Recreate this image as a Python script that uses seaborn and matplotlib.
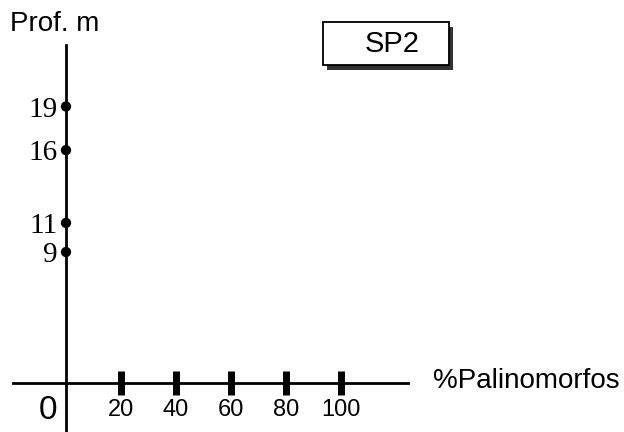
import matplotlib
matplotlib.use("Agg")
import matplotlib.pyplot as plt
import matplotlib.patches as patches
import seaborn as sns
import pandas as pd

# depth samples (m) and palynomorph percentage at each
depths = [19, 16, 11, 9]
pct = [0, 0, 0, 0]
depth_labels = ["19", "16", "11", "9"]
x_ticks = [20, 40, 60, 80, 100]
x_tick_labels = ["20", "40", "60", "80", "100"]

sns.set_style("white")
plt.rcParams["font.family"] = ["Liberation Sans", "DejaVu Sans"]
plt.rcParams["text.color"] = "black"
plt.rcParams["xtick.color"] = "black"
plt.rcParams["ytick.color"] = "black"

df = pd.DataFrame({"pct": pct, "depth": depths})

fig = plt.figure(figsize=(6.24, 4.32), dpi=100)
ax = fig.add_axes([0, 0, 1, 1])

sns.scatterplot(data=df, x="pct", y="depth", ax=ax, color="black",
                s=55, edgecolor="none", zorder=5, clip_on=False)

ax.set_xlim(-24, 202.9)
ax.set_ylim(-3.37, 26.32)

# axes crossing at origin
for side in ["top", "right"]:
    ax.spines[side].set_visible(False)
ax.spines["left"].set_position(("data", 0))
ax.spines["bottom"].set_position(("data", 0))
ax.spines["left"].set_bounds(-3.37, 23.2)
ax.spines["bottom"].set_bounds(-19.3, 124.4)
for side in ["left", "bottom"]:
    ax.spines[side].set_linewidth(2)
    ax.spines[side].set_color("black")

ax.set_xticks(x_ticks)
ax.set_xticklabels(x_tick_labels, fontsize=17)
ax.tick_params(axis="x", direction="inout", length=17, width=5, pad=3,
               bottom=True)

ax.set_yticks(depths)
ax.set_yticklabels(depth_labels, fontsize=21, family="Liberation Serif")
ax.tick_params(axis="y", length=0, pad=6, left=True)

ax.set_xlabel("")
ax.set_ylabel("")

ax.text(-3.3, -1.92, "0", fontsize=24, ha="right", va="center")
fig.text(10 / 624, 1 - 24 / 432, "Prof. m", fontsize=20, ha="left", va="center")
fig.text(433 / 624, 1 - 381 / 432, "%Palinomorfos", fontsize=20,
         ha="left", va="center")

# SP2 label box with drop shadow
shadow = patches.Rectangle((327 / 624, 1 - 70 / 432), 126 / 624, 43 / 432,
                           transform=fig.transFigure, facecolor="#333333",
                           edgecolor="none", zorder=1)
box = patches.Rectangle((323 / 624, 1 - 65 / 432), 126 / 624, 43 / 432,
                        transform=fig.transFigure, facecolor="white",
                        edgecolor="black", linewidth=1.3, zorder=2)
fig.patches.extend([shadow, box])
fig.text(392 / 624, 1 - 44 / 432, "SP2", fontsize=21, ha="center",
         va="center", zorder=3)

fig.savefig("out.png", dpi=100)
